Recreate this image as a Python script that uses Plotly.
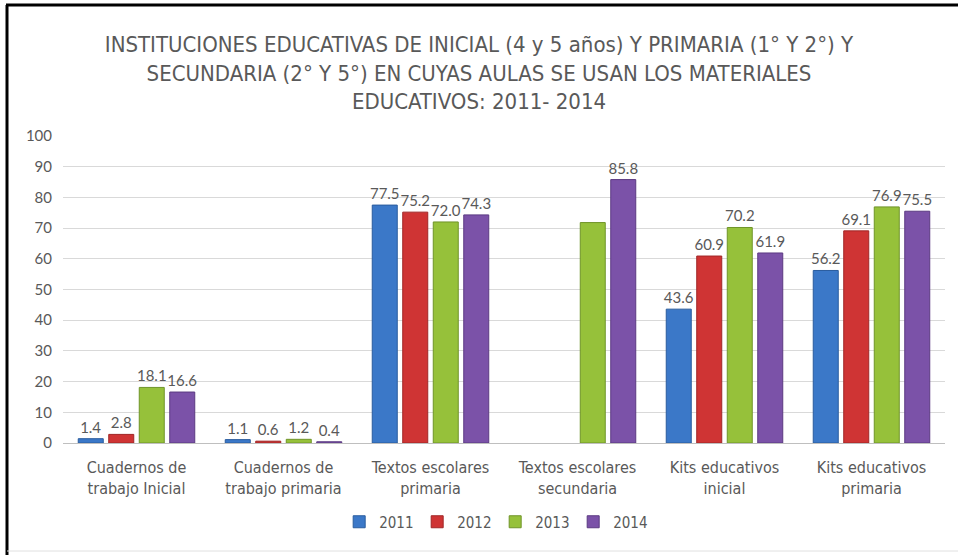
import plotly.graph_objects as go

categories = ["Cuadernos de<br>trabajo Inicial", "Cuadernos de<br>trabajo primaria",
              "Textos escolares<br>primaria", "Textos escolares<br>secundaria",
              "Kits educativos<br>inicial", "Kits educativos<br>primaria"]
years = ["2011", "2012", "2013", "2014"]
v2011 = [1.4, 1.1, 77.5, None, 43.6, 56.2]
v2012 = [2.8, 0.6, 75.2, None, 60.9, 69.1]
v2013 = [18.1, 1.2, 72.0, 71.8, 70.2, 76.9]
v2014 = [16.6, 0.4, 74.3, 85.8, 61.9, 75.5]
labels2013 = ["18.1", "1.2", "72.0", "", "70.2", "76.9"]
colors = ["#3B78C8", "#CF3434", "#96C13A", "#7B52A8"]
edge = ["#2A5C9E", "#A02626", "#6F9428", "#5B3A82"]

W, H = 958, 555
L, R, T, B = 63, 13, 136, 112
pw, ph = W - L - R, H - T - B

def px(x):
    return (x - L) / pw

def py(y):
    return (H - B - y) / ph

fig = go.Figure()
series = [v2011, v2012, v2013, v2014]
for i, (yr, vals) in enumerate(zip(years, series)):
    if i == 2:
        txt = labels2013
    else:
        txt = ["" if v is None else f"{v:.1f}" for v in vals]
    fig.add_trace(go.Bar(
        name=yr, x=categories, y=vals, text=txt,
        textposition="outside", cliponaxis=False, constraintext="none",
        textfont=dict(family="Lato, sans-serif", size=15, color="#595959"),
        marker=dict(color=colors[i], line=dict(color=edge[i], width=1)),
    ))

cond = "DejaVu Sans Condensed, Liberation Sans, sans-serif"
fig.update_layout(
    width=W, height=H,
    margin=dict(l=L, r=R, t=T, b=B),
    paper_bgcolor="white", plot_bgcolor="white",
    barmode="group", bargap=0.17, bargroupgap=0.18,
    title=dict(
        text="INSTITUCIONES EDUCATIVAS DE INICIAL (4 y 5 años) Y PRIMARIA (1° Y 2°) Y<br>"
             "SECUNDARIA (2° Y 5°) EN CUYAS AULAS SE USAN LOS MATERIALES<br>"
             "EDUCATIVOS: 2011- 2014",
        x=0.5, xanchor="center", xref="container",
        y=1 - 52 / H, yanchor="top", yref="container",
        font=dict(family=cond, size=22, color="#595959"),
    ),
    yaxis=dict(range=[0, 100], dtick=10, showgrid=True, gridcolor="#D9D9D9",
               gridwidth=1, zeroline=False, showline=False,
               tickfont=dict(family="Lato, sans-serif", size=15, color="#595959"),
               ticks="", ticklabelstandoff=10),
    xaxis=dict(showline=True, linecolor="#BFBFBF", linewidth=1, ticks="",
               ticklabelstandoff=10,
               tickfont=dict(family=cond, size=16, color="#595959")),
    legend=dict(orientation="h", x=0.49, xanchor="center", y=py(522), yanchor="middle",
                font=dict(family=cond, size=15, color="#595959"),
                itemwidth=30, entrywidth=33, entrywidthmode="pixels", traceorder="normal"),
    showlegend=True,
    shapes=[
        dict(type="line", xref="paper", yref="paper", x0=px(7), x1=px(7), y0=py(5), y1=py(560),
             line=dict(color="black", width=3)),
        dict(type="line", xref="paper", yref="paper", x0=px(6), x1=px(960), y0=py(5), y1=py(5),
             line=dict(color="black", width=3)),
        dict(type="line", xref="paper", yref="paper", x0=px(7), x1=px(960), y0=py(551), y1=py(551),
             line=dict(color="#E0E0E0", width=1)),
    ],
)

fig.write_html("out.html", config={"displayModeBar": False},
               post_script="document.body.style.margin='0';")
